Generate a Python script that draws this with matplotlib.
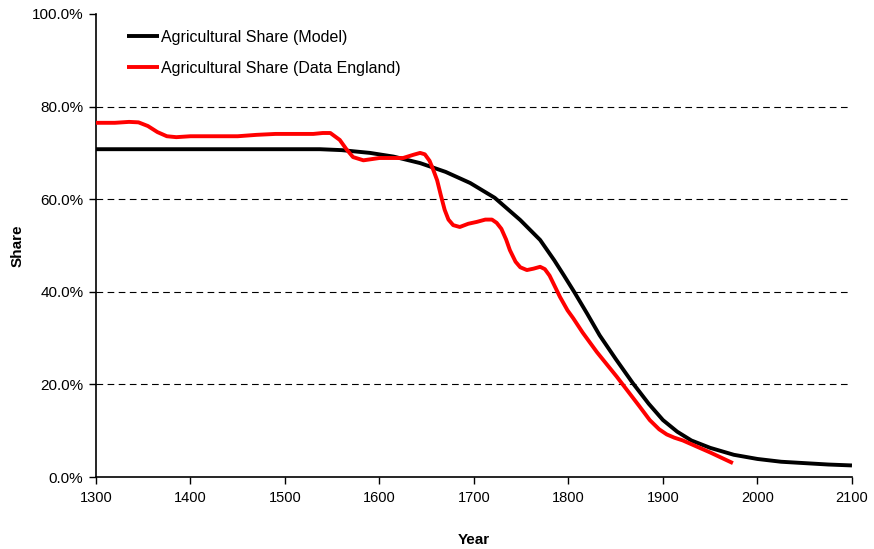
import numpy as np
import matplotlib
matplotlib.use("Agg")
import matplotlib.pyplot as plt
from matplotlib.ticker import PercentFormatter

plt.rcParams['font.family'] = ['Liberation Sans', 'DejaVu Sans']

# model series
model_year = [1300, 1400, 1500, 1537, 1560, 1590, 1615, 1643, 1670, 1696, 1722, 1749, 1770,
              1785, 1795, 1806, 1820, 1833, 1850, 1868, 1885, 1900, 1915, 1930, 1950, 1975,
              2000, 2025, 2050, 2075, 2100]
model_share = [70.8, 70.8, 70.8, 70.8, 70.6, 70.0, 69.2, 67.8, 65.9, 63.5, 60.3, 55.5, 51.2,
               46.8, 43.6, 40.0, 35.2, 30.6, 25.5, 20.3, 15.8, 12.3, 9.8, 7.9, 6.3, 4.8,
               3.9, 3.3, 3.0, 2.7, 2.5]

# England data series
data_year = [1300, 1320, 1335, 1345, 1355, 1365, 1375, 1385, 1400, 1450, 1470, 1490, 1530,
             1540, 1548, 1558, 1565, 1572, 1583, 1600, 1625, 1636, 1643, 1648, 1653, 1657,
             1661, 1665, 1669, 1673, 1678, 1685, 1694, 1703, 1712, 1719, 1724, 1729, 1734,
             1738, 1744, 1749, 1756, 1763, 1770, 1775, 1780, 1786, 1791, 1799, 1805, 1815,
             1830, 1851, 1875, 1886, 1896, 1904, 1912, 1921, 1950, 1974]
data_share = [76.5, 76.5, 76.7, 76.6, 75.8, 74.5, 73.6, 73.4, 73.6, 73.6, 73.9, 74.1, 74.1,
              74.3, 74.3, 72.8, 70.8, 69.1, 68.4, 68.9, 68.9, 69.6, 70.0, 69.7, 68.3, 66.3,
              64.1, 60.8, 57.7, 55.6, 54.4, 54.0, 54.7, 55.1, 55.6, 55.6, 54.9, 53.6, 51.3,
              49.0, 46.5, 45.3, 44.7, 45.0, 45.4, 44.9, 43.5, 41.0, 38.9, 36.0, 34.3, 31.2,
              27.0, 21.7, 15.3, 12.3, 10.3, 9.2, 8.5, 7.9, 5.3, 3.0]

grid_vals = [20, 40, 60, 80]

fig = plt.figure(figsize=(8.74, 5.49), dpi=100)
ax = fig.add_axes([0.1098, 0.1311, 0.865, 0.8434])

ax.plot(model_year, model_share, color='black', lw=2.8, solid_capstyle='butt',
        solid_joinstyle='round', label='Agricultural Share (Model)', zorder=3)
ax.plot(data_year, data_share, color='#ff0000', lw=2.8, solid_joinstyle='round',
        solid_capstyle='butt', label='Agricultural Share (Data England)', zorder=4)

for g in grid_vals:
    ax.axhline(g, color='black', lw=0.8, ls=(0, (6, 4)), zorder=1)

ax.set_xlim(1300, 2100)
ax.set_ylim(0, 100)
ax.set_xticks(range(1300, 2101, 100))
ax.set_yticks(range(0, 101, 20))
ax.yaxis.set_major_formatter(PercentFormatter(100, decimals=1))

for s in ['top', 'right']:
    ax.spines[s].set_visible(False)
for s in ['left', 'bottom']:
    ax.spines[s].set_linewidth(1.2)
ax.tick_params(axis='both', direction='out', length=5, width=1, pad=4)
ax.tick_params(axis='y', labelsize=11)
ax.tick_params(axis='x', labelsize=10.5, pad=5)

ax.set_xlabel('Year', fontsize=11, fontweight='bold', labelpad=20)
ax.set_ylabel('Share', fontsize=11, fontweight='bold', labelpad=5)

leg = ax.legend(loc='upper left', bbox_to_anchor=(0.022, 0.997), frameon=False,
                fontsize=11.5, handlelength=2.0, handletextpad=0.15, labelspacing=1.0)

fig.savefig('out.png', dpi=100)
